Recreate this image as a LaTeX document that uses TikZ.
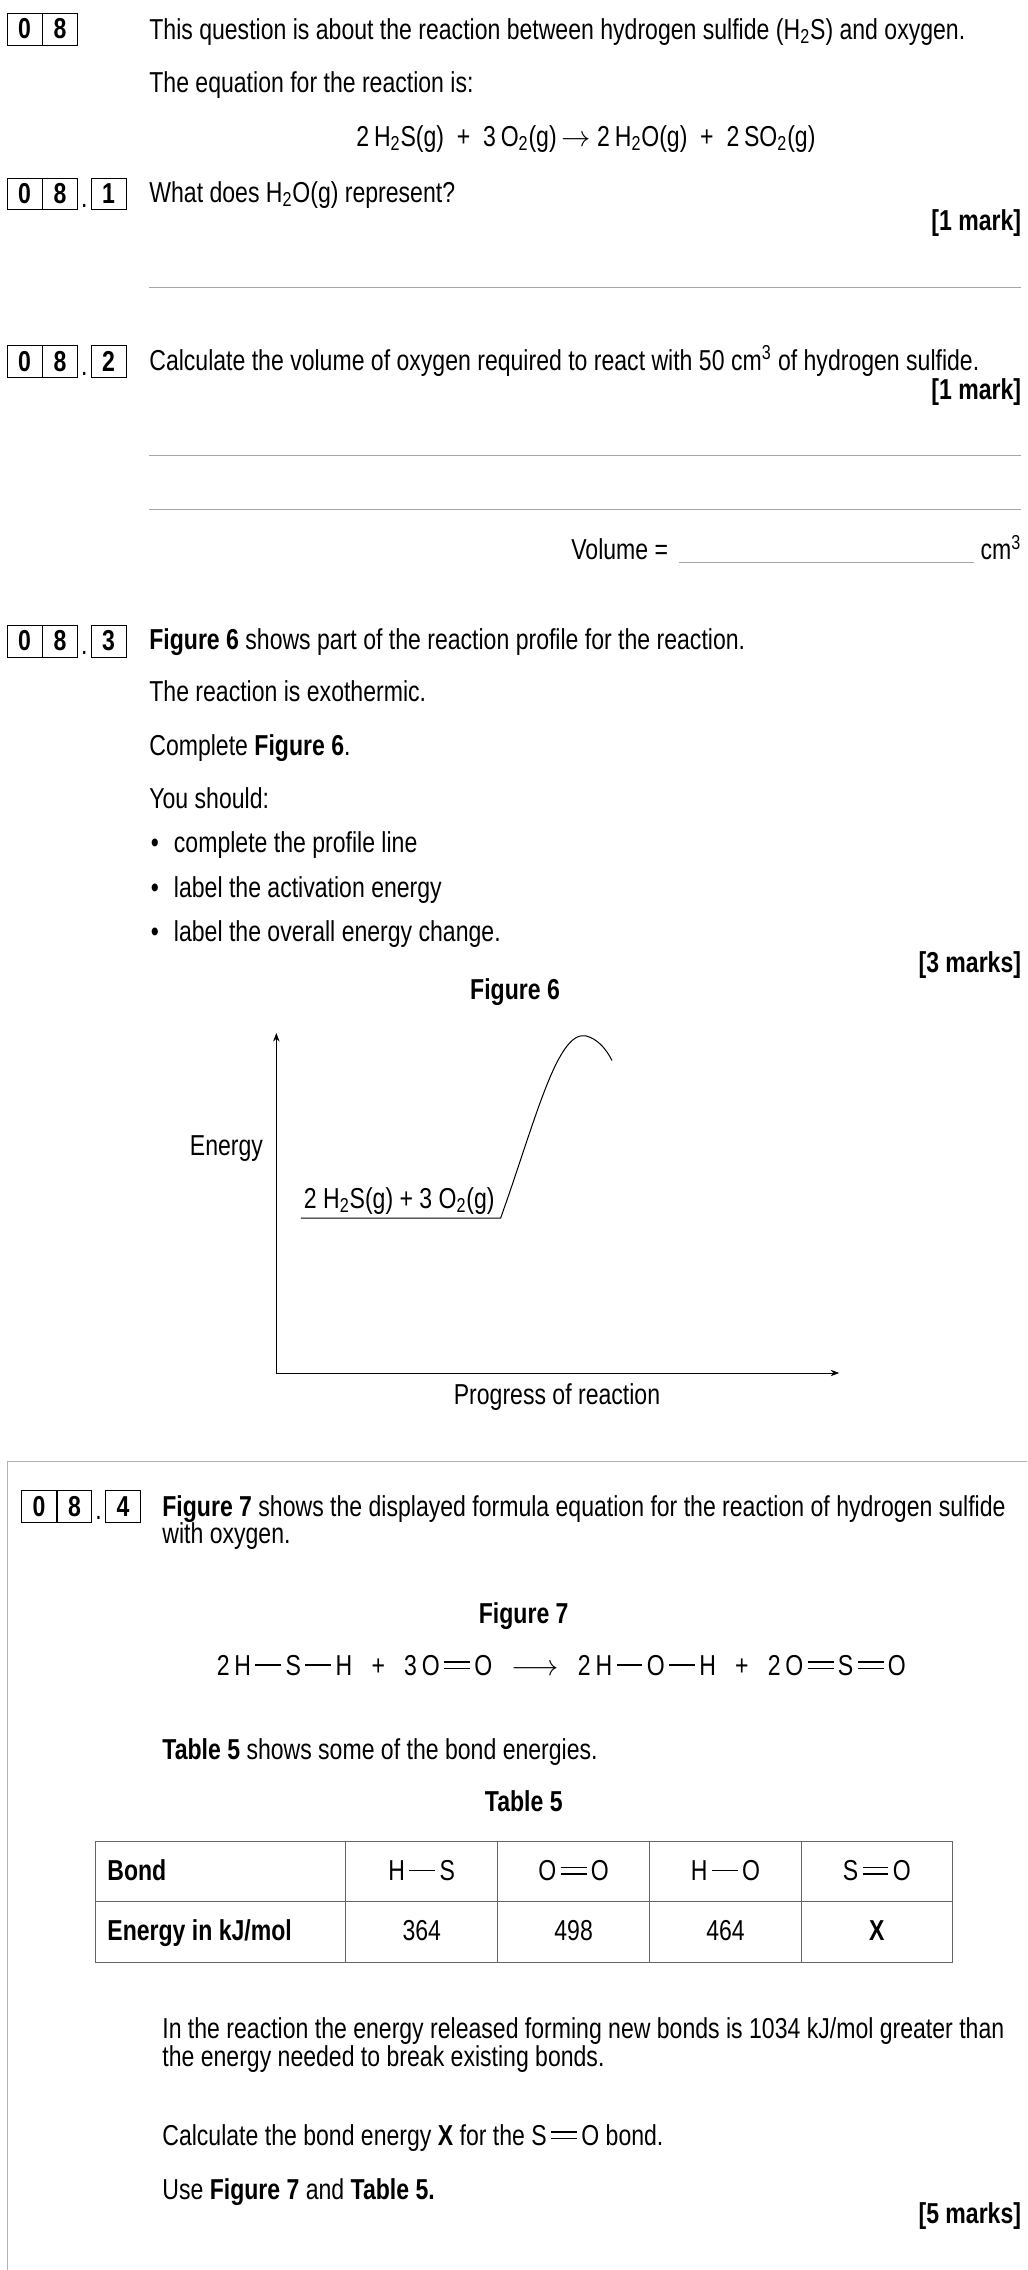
\documentclass[tikz,border=0pt]{standalone}
\usepackage{fontspec}
\setmainfont[FakeStretch=0.8]{Liberation Sans}
\usetikzlibrary{arrows.meta,positioning,calc}
\newcommand\sbond{\kern0.15em\rule[0.33em]{0.9em}{0.05em}\kern0.15em}
\newcommand\dbond{\kern0.15em\rlap{\rule[0.22em]{0.9em}{0.05em}}\rule[0.44em]{0.9em}{0.05em}\kern0.15em}
\newcommand\qfont{\fontsize{17}{20}\selectfont}
\tikzset{
  txt/.style={anchor=base west, inner sep=0pt},
  ctxt/.style={anchor=base, inner sep=0pt},
  rtxt/.style={anchor=base east, inner sep=0pt},
  bold/.style={font=\qfont\bfseries},
  digit/.style={draw, minimum width=0.72cm, minimum height=0.66cm, inner sep=0pt, font=\qfont\bfseries},
  answer/.style={gray!70, line width=0.6pt}
}
\begin{document}
\begin{tikzpicture}[x=0.03cm, y=-0.03cm, font=\qfont]
\useasboundingbox (0,0) rectangle (710,1569);

% question numbers
\node[digit] (q0) at (17,20) {0};
\node[digit, right=0pt of q0] (q8) {8};
\node[digit] (a0) at (17,134) {0};
\node[digit, right=0pt of a0] (a8) {8};
\node[digit] (a1) at (75,134) {1};
\node[digit] (b0) at (17,250) {0};
\node[digit, right=0pt of b0] (b8) {8};
\node[digit] (b2) at (75,250) {2};
\node[digit] (c0) at (17,443) {0};
\node[digit, right=0pt of c0] (c8) {8};
\node[digit] (c3) at (75,443) {3};
\node[digit] (d0) at (27,1041) {0};
\node[digit, right=0pt of d0] (d8) {8};
\node[digit] (d4) at (85,1041) {4};
\foreach \n in {a,b,c,d} \node[ctxt] at ($(\n8.south east)+(4.5,-2)$) {.};

% part 1
\node[txt] (intro) at (103,27) {This question is about the reaction between hydrogen sulfide (H\textsubscript{2}S) and oxygen.};
\node[txt] (eqlbl) at (103,64) {The equation for the reaction is:};
\node[ctxt] (eq) at (405,101) {2\,H\textsubscript{2}S(g) \ + \ 3\,O\textsubscript{2}(g)\,$\rightarrow$\ 2\,H\textsubscript{2}O(g) \ + \ 2\,SO\textsubscript{2}(g)};
\node[txt] (p1) at (103,140) {What does H\textsubscript{2}O(g) represent?};
\node[rtxt, bold] (m1) at (706,159) {[1 mark]};
\draw[answer] (103,199) -- (706,199);

% part 2
\node[txt] (p2) at (103,256) {Calculate the volume of oxygen required to react with 50 cm\textsuperscript{3} of hydrogen sulfide.};
\node[rtxt, bold] (m2) at (706,276) {[1 mark]};
\draw[answer] (103,315) -- (706,315);
\draw[answer] (103,352) -- (706,352);
\node[rtxt] (vol) at (462,387) {Volume =};
\coordinate (vs) at (469,389);
\coordinate (ve) at (673,389);
\draw[answer] (vs) -- (ve);
\node[rtxt] (unit) at (706,387) {cm\textsuperscript{3}};

% part 3
\node[txt] (p3) at (103,449) {\textbf{Figure 6} shows part of the reaction profile for the reaction.};
\node[txt] at (103,485) {The reaction is exothermic.};
\node[txt] at (103,522) {Complete \textbf{Figure 6}.};
\node[txt] at (103,559) {You should:};
\foreach \y/\t in {589/complete the profile line, 620/label the activation energy, 651/label the overall energy change.} {
  \node[txt] at (104,\y) {\textbullet};
  \node[txt] at (120,\y) {\t};
}
\node[rtxt, bold] (m3) at (706,672) {[3 marks]};
\node[ctxt, bold] (fig6) at (356,691) {Figure 6};

% reaction profile
\coordinate (origin) at (191,949);
\coordinate (ytop) at (191,714);
\coordinate (xend) at (580,949);
\draw[-{Stealth[length=5pt]}] (origin) -- (ytop);
\draw[-{Stealth[length=5pt]}] (origin) -- (xend);
\node[anchor=base east, inner sep=0pt] (energy) at (182,799) {Energy};
\node[ctxt] (xlbl) at (385,971) {Progress of reaction};
\coordinate (rs) at (208,842);
\coordinate (re) at (346,842);
\node[ctxt] (react) at (276,835) {2 H\textsubscript{2}S(g) + 3 O\textsubscript{2}(g)};
\draw[line width=0.6pt] (rs) -- (re) .. controls (370,775) and (385,712) .. (405,716)
  .. controls (413,718) and (419,725) .. (423,733);

% part 4
\draw[gray!60] (5,1569) -- (5,1010) -- (710,1010);
\node[txt] (p4) at (112,1048) {\textbf{Figure 7} shows the displayed formula equation for the reaction of hydrogen sulfide};
\node[txt] at (112,1067) {with oxygen.};
\node[ctxt, bold] (fig7) at (362,1122) {Figure 7};
\node[ctxt] (eq7) at (388,1158) {2\,H\sbond S\sbond H \ \ + \ \ 3\,O\dbond O \ \ $\longrightarrow$ \ \ 2\,H\sbond O\sbond H \ \ + \ \ 2\,O\dbond S\dbond O};
\node[txt] at (112,1216) {\textbf{Table 5} shows some of the bond energies.};
\node[ctxt, bold] (tab5) at (362,1252) {Table 5};

% table
\draw[gray!80!black] (66,1273) rectangle (658,1356);
\draw[gray!80!black] (66,1314) -- (658,1314);
\foreach \x in {239,344,449,554} \draw[gray!80!black] (\x,1273) -- (\x,1356);
\node[txt, bold] at (74,1300) {Bond};
\node[txt, bold] at (74,1341) {Energy in kJ/mol};
\foreach \x/\b/\e in {291.5/H\sbond S/364, 396.5/O\dbond O/498, 501.5/H\sbond O/464, 606/S\dbond O/\textbf{X}} {
  \node[ctxt] at (\x,1300) {\b};
  \node[ctxt] at (\x,1341) {\e};
}

\node[txt] at (112,1409) {In the reaction the energy released forming new bonds is 1034 kJ/mol greater than};
\node[txt] at (112,1428) {the energy needed to break existing bonds.};
\node[txt] at (112,1483) {Calculate the bond energy \textbf{X} for the S\dbond O bond.};
\node[txt] at (112,1520) {Use \textbf{Figure 7} and \textbf{Table 5.}};
\node[rtxt, bold] (m4) at (706,1537) {[5 marks]};
\end{tikzpicture}
\end{document}
